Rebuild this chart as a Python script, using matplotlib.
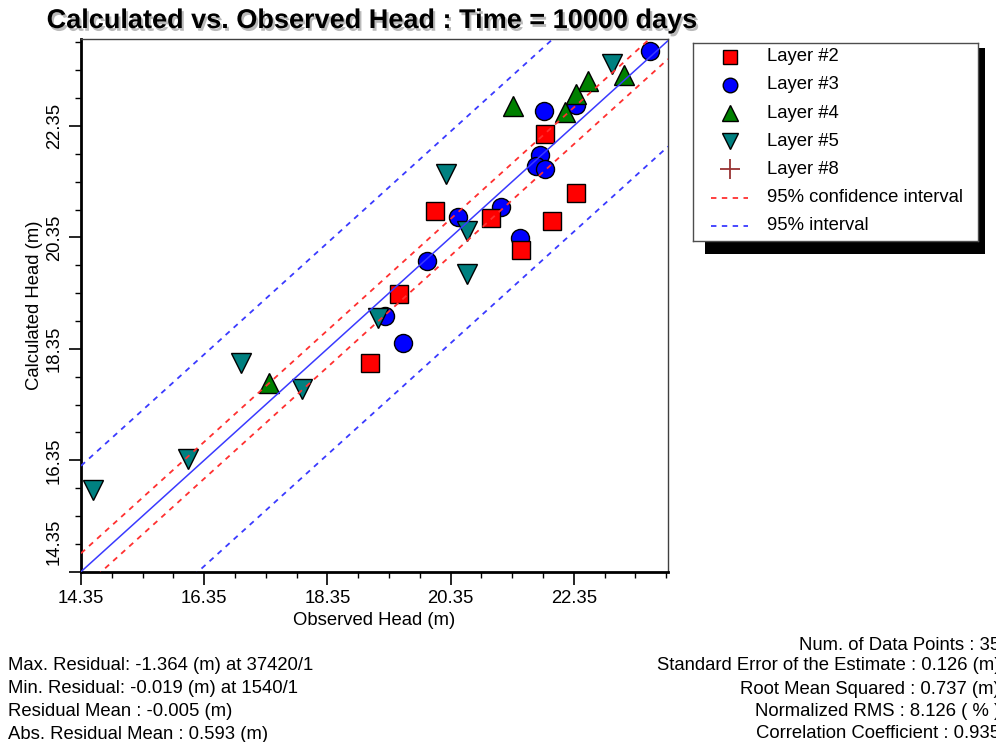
import matplotlib
matplotlib.use("Agg")
import matplotlib.pyplot as plt
import matplotlib.patheffects as pe
from matplotlib.patches import Rectangle
from matplotlib.ticker import MultipleLocator, FuncFormatter
import numpy as np

plt.rcParams['font.family'] = ['Liberation Sans', 'DejaVu Sans']

# --- observed vs calculated heads (m), one pair of lists per layer ---

layer2_obs = [21.89, 22.39, 20.09, 21.00, 22.00, 21.50, 19.51, 19.05]
layer2_calc = [22.21, 21.15, 20.82, 20.69, 20.64, 20.12, 19.33, 18.09]

layer3_obs = [23.58, 22.38, 21.86, 21.81, 21.74, 21.88, 21.17, 20.47, 21.47, 19.96, 19.28, 19.58]
layer3_calc = [23.70, 22.73, 22.62, 21.83, 21.63, 21.58, 20.90, 20.71, 20.33, 19.93, 18.94, 18.46]

layer4_obs = [23.17, 22.58, 22.38, 22.20, 21.37, 17.40]
layer4_calc = [23.27, 23.15, 22.92, 22.60, 22.70, 17.73]

layer5_obs = [22.97, 20.28, 20.61, 20.61, 19.17, 16.95, 17.93, 16.08, 14.54]
layer5_calc = [23.46, 21.49, 20.46, 19.70, 18.91, 18.09, 17.63, 16.38, 15.81]

layer8_obs = []
layer8_calc = []

# regression line and half-widths of the two bands
FIT_SLOPE = 1.0
FIT_INTERCEPT = 0.0
CONF_HALF = 0.33
PRED_HALF = 1.90

X_LIM = (14.35, 23.88)
Y_LIM = (14.35, 23.91)

TITLE = 'Calculated vs. Observed Head : Time = 10000 days'

legend_labels = ['Layer #2', 'Layer #3', 'Layer #4', 'Layer #5', 'Layer #8',
                 '95% confidence interval', '95% interval']

stats_left = [
    'Max. Residual: -1.364 (m) at 37420/1',
    'Min. Residual: -0.019 (m) at 1540/1',
    'Residual Mean : -0.005 (m)',
    'Abs. Residual Mean : 0.593 (m)',
]
stats_right = [
    'Num. of Data Points : 35',
    'Standard Error of the Estimate : 0.126 (m)',
    'Root Mean Squared : 0.737 (m)',
    'Normalized RMS : 8.126 ( % )',
    'Correlation Coefficient : 0.935',
]

RED = '#ff0000'
BLUE = '#0000ff'
GREEN = '#008000'
TEAL = '#008080'
CROSS = '#993333'
LINE_RED = '#ff3030'
LINE_BLUE = '#3a3aff'
DASH = (0, (3, 3))
FS = 13.3

W, H = 996, 742
fig = plt.figure(figsize=(W / 100, H / 100), dpi=100)
fig.patch.set_facecolor('white')
ax = fig.add_axes([81 / W, 1 - 571.7 / H, (668 - 81) / W, (571.7 - 39) / H])

# --- markers ---
mk = dict(linestyle='none', markeredgecolor='black', markeredgewidth=1.0, zorder=3)
ax.plot(layer3_obs, layer3_calc, marker='o', color=BLUE, markersize=13, **mk)
ax.plot(layer2_obs, layer2_calc, marker='s', color=RED, markersize=12.5, **mk)
ax.plot(layer4_obs, layer4_calc, marker='^', color=GREEN, markersize=14, **mk)
ax.plot(layer5_obs, layer5_calc, marker='v', color=TEAL, markersize=14, **mk)
ax.plot(layer8_obs, layer8_calc, marker='+', color=CROSS, markersize=14,
        linestyle='none', zorder=3)

# --- regression line with confidence / prediction bands ---
xx = np.array(X_LIM)
fit = FIT_SLOPE * xx + FIT_INTERCEPT
ax.plot(xx, fit, color=LINE_BLUE, linewidth=1.1, zorder=4)
ax.plot(xx, fit + CONF_HALF, color=LINE_RED, linewidth=1.3, linestyle=DASH, zorder=4)
ax.plot(xx, fit - CONF_HALF, color=LINE_RED, linewidth=1.3, linestyle=DASH, zorder=4)
ax.plot(xx, fit + PRED_HALF, color=LINE_BLUE, linewidth=1.3, linestyle=DASH, zorder=4)
ax.plot(xx, fit - PRED_HALF, color=LINE_BLUE, linewidth=1.3, linestyle=DASH, zorder=4)

ax.set_xlim(*X_LIM)
ax.set_ylim(*Y_LIM)

for axis in (ax.xaxis, ax.yaxis):
    axis.set_major_locator(MultipleLocator(2.0, offset=0.35))
    axis.set_minor_locator(MultipleLocator(0.5, offset=0.35))
ax.xaxis.set_major_formatter(FuncFormatter(lambda v, p: f'{v:.2f}'))
# the lowest y label is drawn separately, lifted off the corner
ax.yaxis.set_major_formatter(FuncFormatter(
    lambda v, p: '' if abs(v - Y_LIM[0]) < 1e-6 else f'{v:.2f}'))

ax.tick_params(which='major', direction='out', length=9, width=1.2, labelsize=FS,
               color='black', pad=4)
ax.tick_params(which='minor', direction='out', length=4.5, width=1.0, color='black')
ax.tick_params(axis='y', which='major', labelrotation=90)
plt.setp(ax.get_yticklabels(), va='center')
ax.annotate(f'{Y_LIM[0]:.2f}', xy=(0, Y_LIM[0]), xycoords=('axes fraction', 'data'),
            xytext=(-13, 5), textcoords='offset points', rotation=90,
            ha='right', va='bottom', fontsize=FS, annotation_clip=False)

for side in ('left', 'bottom'):
    ax.spines[side].set_linewidth(2.0)
    ax.spines[side].set_color('black')
for side in ('top', 'right'):
    ax.spines[side].set_linewidth(1.0)
    ax.spines[side].set_color('0.25')

ax.set_xlabel('Observed Head (m)', fontsize=FS, labelpad=4)
ax.set_ylabel('Calculated Head (m)', fontsize=FS, labelpad=2)

fig.text(372 / W, 1 - 28 / H, TITLE, ha='center', va='baseline', fontsize=19.5,
         fontweight='bold',
         path_effects=[pe.SimplePatchShadow(offset=(1.5, -2), shadow_rgbFace='0.55', alpha=0.6),
                       pe.Normal()])

# --- legend box (pixel units inside its own axes) with a black drop shadow ---
LEG_X0, LEG_Y0, LEG_X1, LEG_Y1 = 692.7, 42.7, 977.7, 240.7
fig.patches.append(Rectangle((705 / W, 1 - 254 / H), 280 / W, 206 / H,
                             transform=fig.transFigure, facecolor='black',
                             edgecolor='none', zorder=1))
lax = fig.add_axes([LEG_X0 / W, 1 - LEG_Y1 / H, (LEG_X1 - LEG_X0) / W, (LEG_Y1 - LEG_Y0) / H])
lax.set_zorder(2)
lax.set_xlim(0, LEG_X1 - LEG_X0)
lax.set_ylim(LEG_Y1 - LEG_Y0, 0)
lax.set_xticks([])
lax.set_yticks([])
for sp in lax.spines.values():
    sp.set_linewidth(1.0)
    sp.set_color('0.3')

leg_styles = [
    dict(marker='s', color=RED, markeredgecolor='black', markersize=10.5),
    dict(marker='o', color=BLUE, markeredgecolor='black', markersize=10.5),
    dict(marker='^', color=GREEN, markeredgecolor='black', markersize=11),
    dict(marker='v', color=TEAL, markeredgecolor='black', markersize=11),
    dict(marker='+', color=CROSS, markersize=15, markeredgewidth=1.3),
    dict(color=LINE_RED, linestyle=DASH, linewidth=1.3),
    dict(color=LINE_BLUE, linestyle=DASH, linewidth=1.3),
]
hx0, hx1, tx = 711 - LEG_X0, 748 - LEG_X0, 767 - LEG_X0
for i, (label, style) in enumerate(zip(legend_labels, leg_styles)):
    y = 56.7 + 28.2 * i - LEG_Y0
    if 'marker' in style:
        lax.plot([(hx0 + hx1) / 2], [y], linestyle='none', **style)
    else:
        lax.plot([hx0, hx1], [y, y], **style)
    lax.text(tx, y, label, ha='left', va='center', fontsize=FS)

# --- summary statistics under the plot ---
for i, line in enumerate(stats_left):
    fig.text(8 / W, 1 - (666 + 22.7 * i) / H, line, ha='left', va='center', fontsize=FS)
right_rows = [646, 666, 689, 712, 734]
for y, line in zip(right_rows, stats_right):
    fig.text(1000 / W, 1 - y / H, line, ha='right', va='center', fontsize=FS)

fig.savefig('out.png', dpi=100)
